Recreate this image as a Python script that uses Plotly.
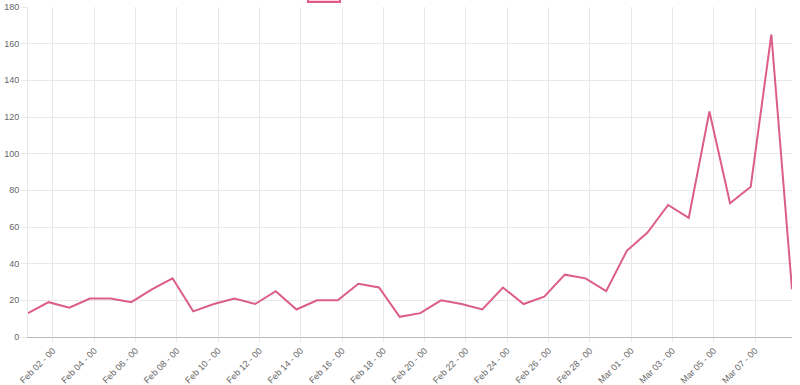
import pandas as pd
import plotly.graph_objects as go

# Data
dates = pd.date_range("2020-01-31 19:00", periods=38, freq="D").strftime("%Y-%m-%d %H:%M").tolist()
values = [13, 19, 16, 21, 21, 19, 26, 32, 14, 18,
          21, 18, 25, 15, 20, 20, 29, 27, 11, 13,
          20, 18, 15, 27, 18, 22, 34, 32, 25, 47,
          57, 72, 65, 123, 73, 82, 165, 26]
tick_vals = ["2020-02-02", "2020-02-04", "2020-02-06", "2020-02-08", "2020-02-10",
             "2020-02-12", "2020-02-14", "2020-02-16", "2020-02-18", "2020-02-20",
             "2020-02-22", "2020-02-24", "2020-02-26", "2020-02-28", "2020-03-01",
             "2020-03-03", "2020-03-05", "2020-03-07"]
tick_text = ["Feb 02 - 00", "Feb 04 - 00", "Feb 06 - 00", "Feb 08 - 00", "Feb 10 - 00",
             "Feb 12 - 00", "Feb 14 - 00", "Feb 16 - 00", "Feb 18 - 00", "Feb 20 - 00",
             "Feb 22 - 00", "Feb 24 - 00", "Feb 26 - 00", "Feb 28 - 00", "Mar 01 - 00",
             "Mar 03 - 00", "Mar 05 - 00", "Mar 07 - 00"]

LINE = "#dc5d87"
GRID = "#e8e8e8"
FONT = dict(family="Liberation Sans, Arial, sans-serif", size=9, color="#666666")

fig = go.Figure()
fig.add_trace(go.Scatter(x=dates, y=values, mode="lines",
                         line=dict(color=LINE, width=2), showlegend=False,
                         cliponaxis=False))

W, H = 800, 385
ml, mr, mt, mb = 28, 8, 7, 48
pw, ph = W - ml - mr, H - mt - mb

def px_x(p):
    return (p - ml) / pw

def px_y(p):
    return 1 - (p - mt) / ph

# partially visible legend box at the top
fig.add_shape(type="rect", xref="paper", yref="paper",
              x0=px_x(308), x1=px_x(340), y0=px_y(2), y1=px_y(-12),
              line=dict(color=LINE, width=2), fillcolor="rgba(255,99,132,0.3)")

fig.update_layout(
    width=W, height=H,
    margin=dict(l=ml, r=mr, t=mt, b=mb),
    paper_bgcolor="white", plot_bgcolor="white",
    font=FONT,
    xaxis=dict(range=[dates[0], dates[-1]], tickvals=tick_vals, ticktext=tick_text,
               tickangle=-45, showgrid=True, gridcolor=GRID, gridwidth=1,
               showline=True, linecolor="#bbbbbb", linewidth=1,
               ticks="outside", ticklen=4, tickcolor=GRID,
               automargin=False, zeroline=False, tickfont=FONT),
    yaxis=dict(range=[0, 180], dtick=20, showgrid=True, gridcolor=GRID, gridwidth=1,
               showline=True, linecolor=GRID, linewidth=1,
               ticks="outside", ticklen=6, tickcolor=GRID,
               automargin=False, zeroline=False, tickfont=FONT),
)

fig.write_html("out.html", config={"displayModeBar": False},
               post_script="document.body.style.margin='0';document.body.style.overflow='hidden';")
